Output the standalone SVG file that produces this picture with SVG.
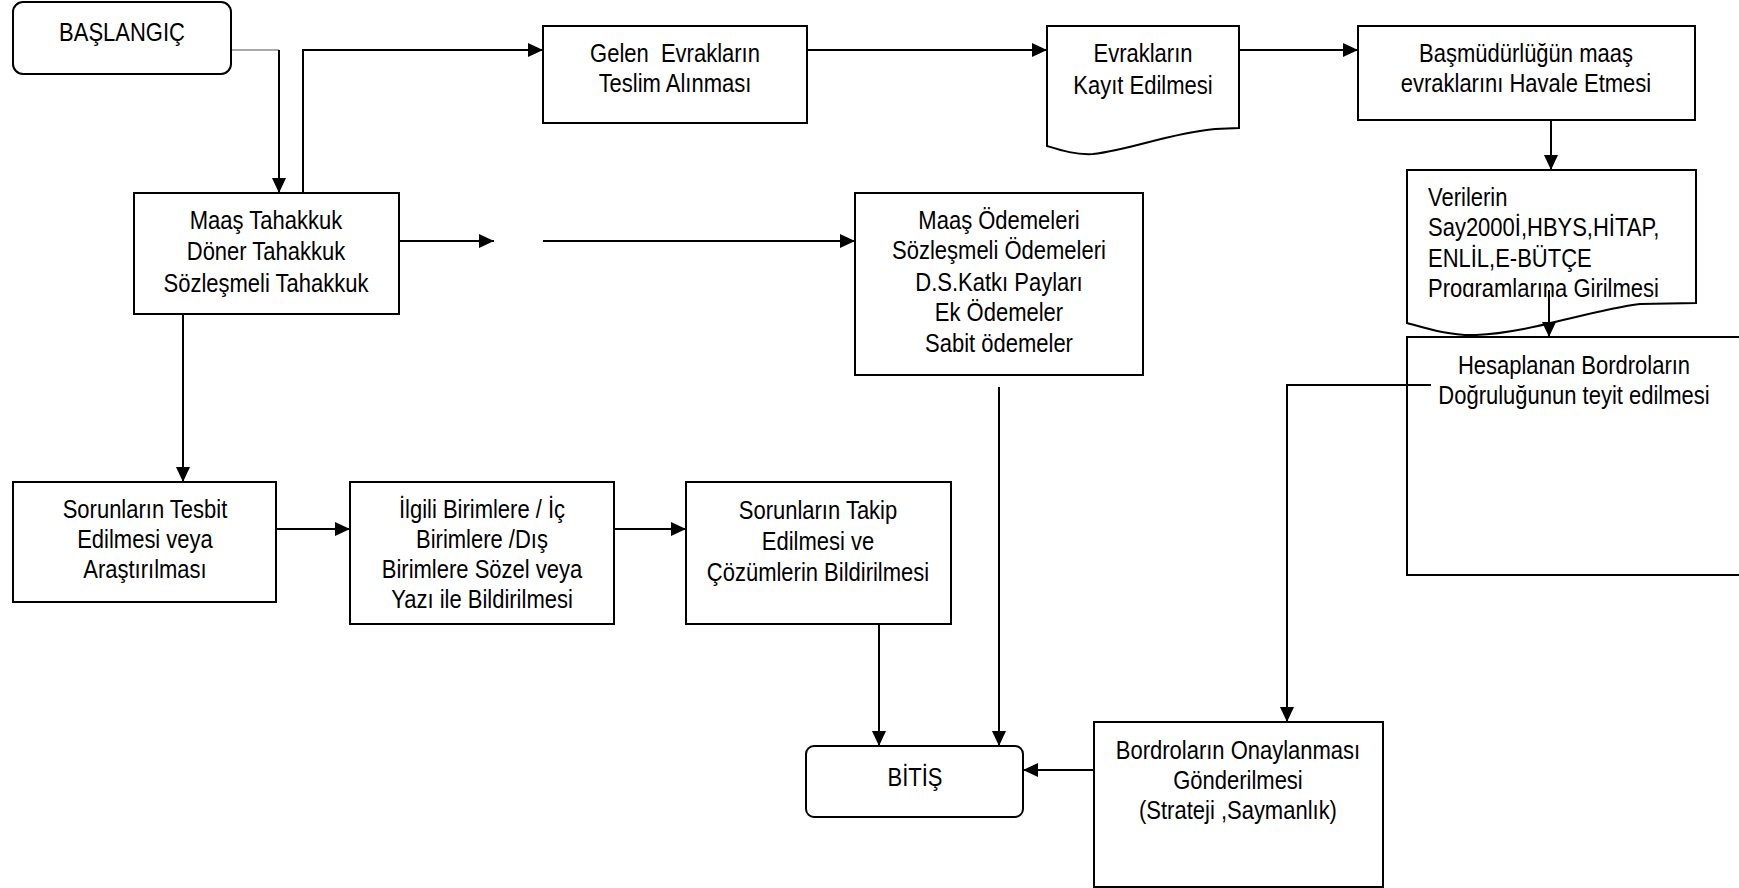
<svg xmlns="http://www.w3.org/2000/svg" width="1739" height="888" viewBox="0 0 1739 888">
<style>
  .box { fill: #ffffff; stroke: #000000; stroke-width: 2; }
  .conn { fill: none; stroke: #000000; stroke-width: 2; }
  .thin { fill: none; stroke: #555555; stroke-width: 1.2; }
  text { font-family: "Liberation Sans", Arial, sans-serif; font-size: 25px; fill: #000000; }
  .c { text-anchor: middle; }
</style>
<defs>
  <marker id="arr" markerUnits="userSpaceOnUse" markerWidth="16" markerHeight="15" refX="15" refY="7" orient="auto">
    <path d="M0,0 L15,7 L0,14 Z" fill="#000000"/>
  </marker>
  <clipPath id="clipVer">
    <rect x="1407" y="170" width="290" height="127"/>
  </clipPath>
</defs>
<rect x="0" y="0" width="1739" height="888" fill="#ffffff"/>

<g id="connectors">
  <path class="thin" d="M231,50 H279"/>
  <path class="conn" d="M279,50 V193" marker-end="url(#arr)"/>
  <path class="conn" d="M303,193 V50 H543" marker-end="url(#arr)"/>
  <path class="conn" d="M807,50 H1047" marker-end="url(#arr)"/>
  <path class="conn" d="M1239,50 H1358" marker-end="url(#arr)"/>
  <path class="conn" d="M1551,120 V170" marker-end="url(#arr)"/>
  <path class="conn" d="M399,241 H494" marker-end="url(#arr)"/>
  <path class="conn" d="M543,241 H855" marker-end="url(#arr)"/>
  <path class="conn" d="M183,314 V482" marker-end="url(#arr)"/>
  <path class="conn" d="M276,529 H350" marker-end="url(#arr)"/>
  <path class="conn" d="M614,529 H686" marker-end="url(#arr)"/>
  <path class="conn" d="M879,624 V746" marker-end="url(#arr)"/>
  <path class="conn" d="M999,387 V746" marker-end="url(#arr)"/>
  <path class="conn" d="M1094,770 H1023" marker-end="url(#arr)"/>
</g>

<g id="baslangic">
  <rect class="box" x="13" y="2" width="218" height="72" rx="10" ry="10"/>
  <g transform="translate(122,0) scale(0.88,1) translate(-122,0)">
    <text class="c" x="122" y="41">BAŞLANGIÇ</text>
  </g>
</g>

<g id="tahakkuk">
  <rect class="box" x="134" y="193" width="265" height="121"/>
  <g transform="translate(266,0) scale(0.88,1) translate(-266,0)">
    <text class="c" x="266" y="229">Maaş Tahakkuk</text>
    <text class="c" x="266" y="260">Döner Tahakkuk</text>
    <text class="c" x="266" y="292">Sözleşmeli Tahakkuk</text>
  </g>
</g>

<g id="gelen">
  <rect class="box" x="543" y="26" width="264" height="97"/>
  <g transform="translate(675,0) scale(0.88,1) translate(-675,0)">
    <text class="c" x="675" y="62" xml:space="preserve">Gelen  Evrakların</text>
    <text class="c" x="675" y="92">Teslim Alınması</text>
  </g>
</g>

<g id="kayit">
  <path class="box" d="M1047,26 H1239 V128 L1215,129 C1170,133 1130,150 1093,154 C1075,155 1060,150 1047,146 Z"/>
  <g transform="translate(1143,0) scale(0.88,1) translate(-1143,0)">
    <text class="c" x="1143" y="62">Evrakların</text>
    <text class="c" x="1143" y="94">Kayıt Edilmesi</text>
  </g>
</g>

<g id="havale">
  <rect class="box" x="1358" y="26" width="337" height="94"/>
  <g transform="translate(1526,0) scale(0.88,1) translate(-1526,0)">
    <text class="c" x="1526" y="62">Başmüdürlüğün maaş</text>
    <text class="c" x="1526" y="92">evraklarını Havale Etmesi</text>
  </g>
</g>

<g id="verilerin">
  <path class="box" d="M1407,170 H1696 V303 L1640,304 C1590,310 1530,333 1476,335 C1450,336 1425,328 1407,323 Z"/>
  <g clip-path="url(#clipVer)">
    <g transform="translate(1428,0) scale(0.88,1) translate(-1428,0)">
      <text x="1428" y="206">Verilerin</text>
      <text x="1428" y="236">Say2000İ,HBYS,HİTAP,</text>
      <text x="1428" y="267">ENLİL,E-BÜTÇE</text>
      <text x="1428" y="297">Programlarına Girilmesi</text>
    </g>
  </g>
  <path class="conn" d="M1549,290 V337" marker-end="url(#arr)"/>
</g>

<g id="odemeler">
  <rect class="box" x="855" y="193" width="288" height="182"/>
  <g transform="translate(999,0) scale(0.88,1) translate(-999,0)">
    <text class="c" x="999" y="229">Maaş Ödemeleri</text>
    <text class="c" x="999" y="259">Sözleşmeli Ödemeleri</text>
    <text class="c" x="999" y="291">D.S.Katkı Payları</text>
    <text class="c" x="999" y="321">Ek Ödemeler</text>
    <text class="c" x="999" y="352">Sabit ödemeler</text>
  </g>
</g>

<g id="hesaplanan">
  <rect class="box" x="1407" y="337" width="334" height="238"/>
  <path class="conn" d="M1431,385 H1287 V722" marker-end="url(#arr)"/>
  <g transform="translate(1574,0) scale(0.88,1) translate(-1574,0)">
    <text class="c" x="1574" y="374">Hesaplanan Bordroların</text>
    <text class="c" x="1574" y="404">Doğruluğunun teyit edilmesi</text>
  </g>
</g>

<g id="tesbit">
  <rect class="box" x="13" y="482" width="263" height="120"/>
  <g transform="translate(145,0) scale(0.88,1) translate(-145,0)">
    <text class="c" x="145" y="518">Sorunların Tesbit</text>
    <text class="c" x="145" y="548">Edilmesi veya</text>
    <text class="c" x="145" y="578">Araştırılması</text>
  </g>
</g>

<g id="ilgili">
  <rect class="box" x="350" y="482" width="264" height="142"/>
  <g transform="translate(482,0) scale(0.88,1) translate(-482,0)">
    <text class="c" x="482" y="518">İlgili Birimlere / İç</text>
    <text class="c" x="482" y="548">Birimlere /Dış</text>
    <text class="c" x="482" y="578">Birimlere Sözel veya</text>
    <text class="c" x="482" y="608">Yazı ile Bildirilmesi</text>
  </g>
</g>

<g id="takip">
  <rect class="box" x="686" y="482" width="265" height="142"/>
  <g transform="translate(818,0) scale(0.88,1) translate(-818,0)">
    <text class="c" x="818" y="519">Sorunların Takip</text>
    <text class="c" x="818" y="550">Edilmesi ve</text>
    <text class="c" x="818" y="581">Çözümlerin Bildirilmesi</text>
  </g>
</g>

<g id="bitis">
  <rect class="box" x="806" y="746" width="217" height="71" rx="8" ry="8"/>
  <g transform="translate(915,0) scale(0.88,1) translate(-915,0)">
    <text class="c" x="915" y="786">BİTİŞ</text>
  </g>
</g>

<g id="bordro">
  <rect class="box" x="1094" y="722" width="289" height="165"/>
  <g transform="translate(1238,0) scale(0.88,1) translate(-1238,0)">
    <text class="c" x="1238" y="759">Bordroların Onaylanması</text>
    <text class="c" x="1238" y="789">Gönderilmesi</text>
    <text class="c" x="1238" y="819">(Strateji ,Saymanlık)</text>
  </g>
</g>
</svg>
